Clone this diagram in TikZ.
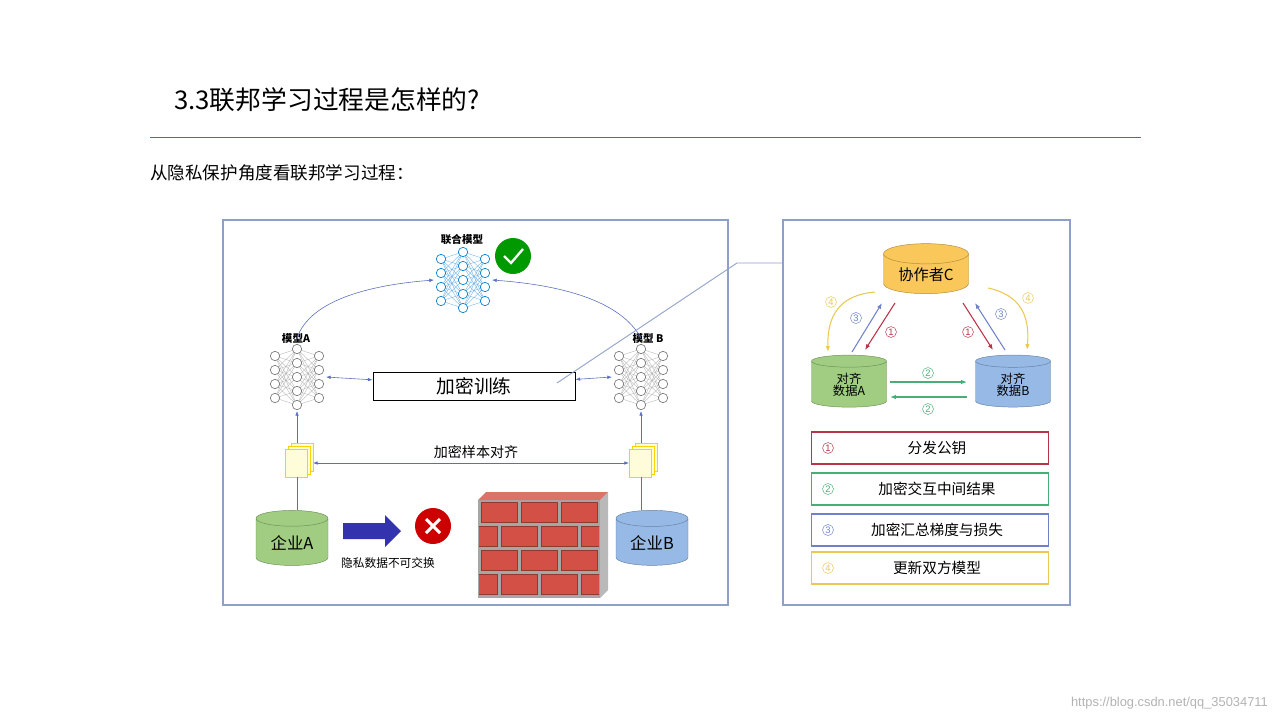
\documentclass[tikz,border=0pt]{standalone}
\usepackage{fontspec}
\setmainfont{Noto Sans CJK SC}
\newfontfamily\latinsans{Liberation Sans}
\usetikzlibrary{shapes.geometric, arrows.meta, calc}
\definecolor{frameblue}{RGB}{143,160,200}
\definecolor{linkblue}{RGB}{90,110,190}
\definecolor{cylgreen}{RGB}{160,205,130}
\definecolor{cylblue}{RGB}{150,185,230}
\definecolor{cylorange}{RGB}{250,200,90}
\definecolor{numred}{RGB}{185,50,70}
\definecolor{numgreen}{RGB}{70,175,120}
\definecolor{numblue}{RGB}{110,130,200}
\definecolor{numyellow}{RGB}{235,200,80}
\definecolor{brick}{RGB}{210,80,70}
\newcommand\fs[1]{\fontsize{#1}{#1}\selectfont}
\tikzset{
  cyl/.style={cylinder, shape border rotate=90, aspect=0.35, draw=#1!70!black, fill=#1,
    minimum width=72*0.03cm, minimum height=55*0.03cm, align=center, inner sep=1pt},
  link/.style={draw=linkblue, line width=0.5pt, {Latex[length=4pt]}-{Latex[length=4pt]}},
  up/.style={draw=linkblue, line width=0.5pt, -{Latex[length=4pt]}},
  num/.style={circle, draw=#1, text=#1, inner sep=0.8pt, font=\latinsans\fs{8}},
  step/.style={draw=#1, line width=0.9pt, -{Latex[length=5pt]}},
  legend/.style={draw=#1, line width=0.9pt, minimum width=237*0.03cm, minimum height=32*0.03cm}
}
% small neural network icon
\newcommand\nnet[3]{%
  \begin{scope}[shift={#1}]
    \foreach \i in {1,...,4}{
      \foreach \j in {1,...,5}{
        \draw[#2!60, line width=0.3pt] (-22,{-21+(\i-1)*14}) -- (0,{-28+(\j-1)*14});
        \draw[#2!60, line width=0.3pt] (22,{-21+(\i-1)*14}) -- (0,{-28+(\j-1)*14});
      }
    }
    \foreach \i in {1,...,4} {
      \draw[#2, fill=white, line width=0.6pt] (-22,{-21+(\i-1)*14}) circle [radius=4.7];
      \draw[#2, fill=white, line width=0.6pt] (22,{-21+(\i-1)*14}) circle [radius=4.7];
    }
    \foreach \j in {1,...,5}
      \draw[#2, fill=white, line width=0.6pt] (0,{-28+(\j-1)*14}) circle [radius=4.7];
    \coordinate (#3-n) at (0,-34);
    \coordinate (#3-s) at (0,34);
    \coordinate (#3-w) at (-29,0);
    \coordinate (#3-e) at (29,0);
  \end{scope}}
% stacked document icon
\newcommand\docs[2]{%
  \begin{scope}[shift={#1}]
    \foreach \k in {2,1,0}
      \draw[yellow!70!orange, fill=yellow!15, line width=0.5pt]
        ({-12+\k*3},{-14-\k*3}) rectangle ({10+\k*3},{14-\k*3});
    \coordinate (#2-n) at (0,-20);
    \coordinate (#2-s) at (0,14);
    \coordinate (#2-w) at (-12,0);
    \coordinate (#2-e) at (16,0);
  \end{scope}}
\begin{document}
\begin{tikzpicture}[x=0.03cm, y=-0.03cm]
  \useasboundingbox (0,0) rectangle (1280,720);
  % heading
  \node[anchor=west, font=\fs{22}] (title) at (170,100) {3.3联邦学习过程是怎样的?};
  \draw[draw=teal!60!gray, line width=0.8pt] (150,137) -- (1141,137);
  \node[anchor=west, font=\fs{15}] (sub) at (146,173) {从隐私保护角度看联邦学习过程：};
  % left panel
  \draw[frameblue, line width=1pt] (223,220) rectangle (728,605);
  \nnet{(463,280)}{cyan!70!blue}{fed}
  \nnet{(297,377)}{gray}{ma}
  \nnet{(641,377)}{gray}{mb}
  \node[font=\bfseries\fs{9}] (fedlbl) at (462,240) {联合模型};
  \node[circle, fill=green!60!black, inner sep=0, minimum size=36*0.03cm] (ok) at (513,256) {};
  \draw[white, line width=2pt] (504,256) -- (511,263) -- (523,249);
  \node[font=\bfseries\fs{9}] (lblA) at (296,338) {模型A};
  \node[font=\bfseries\fs{9}] (lblB) at (648,338) {模型 B};
  \draw[up] (ma-n) ++(0,-5) .. controls (310,300) and (370,285) .. (fed-w);
  \draw[up] (mb-n) ++(0,-5) .. controls (620,300) and (560,285) .. (fed-e);
  \node[draw, line width=0.8pt, minimum width=202*0.03cm, minimum height=28*0.03cm,
    font=\fs{16}] (train) at (474,386) {加密训练};
  \draw[link] (ma-e) -- (train);
  \draw[link] (train) -- (mb-w);
  \docs{(297,463)}{da}
  \docs{(641,463)}{db}
  \node[font=\fs{12}] (alignlbl) at (476,452) {加密样本对齐};
  \draw[link] (da-e) -- (db-w);
  \node[cyl=cylgreen, font=\fs{14}] (entA) at (292,543) {企业A};
  \node[cyl=cylblue, font=\fs{14}] (entB) at (652,543) {企业B};
  \draw[draw=linkblue] (da-s) -- (da-s |- entA.north);
  \draw[draw=linkblue] (db-s) -- (db-s |- entB.north);
  \draw[up] (da-n) -- (ma-s);
  \draw[up] (db-n) -- (mb-s);
  % private data cannot be exchanged
  \fill[blue!60!black!80] (343,523) -- (385,523) -- (385,515) -- (401,531) -- (385,547) -- (385,539) -- (343,539) -- cycle;
  \node[circle, fill=red!80!black, inner sep=0, minimum size=36*0.03cm] (no) at (433,526) {};
  \draw[white, line width=2.5pt] (426,519) -- (440,533) (440,519) -- (426,533);
  \node[font=\fs{10}] (nolbl) at (388,563) {隐私数据不可交换};
  % brick wall
  \fill[gray!70] (478,500) rectangle (600,598);
  \begin{scope}
    \clip (479,500) rectangle (599,598);
    \foreach \r in {0,...,3}{
      \pgfmathsetmacro\off{mod(\r,2)*20}
      \foreach \c in {-1,...,3}
        \draw[brick!70!black, fill=brick] ({481+\off+\c*40},{502+\r*24}) rectangle ({517+\off+\c*40},{522+\r*24});
    }
  \end{scope}
  \fill[gray!55] (600,500) -- (608,492) -- (608,590) -- (600,598) -- cycle;
  \fill[brick!80!white] (478,500) -- (486,492) -- (608,492) -- (600,500) -- cycle;
  % callout line
  \draw[frameblue, line width=0.8pt] (557,383) -- (737,263) -- (783,263);
  % right panel
  \draw[frameblue, line width=1pt] (783,220) rectangle (1070,605);
  \node[cyl=cylorange, minimum width=85*0.03cm, minimum height=50*0.03cm, font=\fs{13}] (coord) at (926,275) {协作者C};
  \node[cyl=cylgreen, minimum width=75*0.03cm, minimum height=52*0.03cm, font=\fs{10.5}] (alA) at (849,385) {对齐\\数据A};
  \node[cyl=cylblue, minimum width=75*0.03cm, minimum height=52*0.03cm, font=\fs{10.5}] (alB) at (1013,385) {对齐\\数据B};
  \draw[step=numred] (895,303) -- (865,350);
  \draw[step=numblue] (852,352) -- (882,303);
  \draw[step=numred] (963,303) -- (993,350);
  \draw[step=numblue] (1005,350) -- (975,303);
  \draw[step=numyellow] (875,292) .. controls (840,295) and (827,315) .. (828,352);
  \draw[step=numyellow] (988,288) .. controls (1020,295) and (1030,315) .. (1027,350);
  \draw[step=numgreen] (890,382) -- (967,382);
  \draw[step=numgreen] (967,397) -- (890,397);
  \node[num=numyellow] (n4a) at (831,302) {4};
  \node[num=numblue] (n3a) at (856,318) {3};
  \node[num=numred] (n1a) at (891,332) {1};
  \node[num=numred] (n1b) at (968,332) {1};
  \node[num=numblue] (n3b) at (1001,314) {3};
  \node[num=numyellow] (n4b) at (1028,298) {4};
  \node[num=numgreen] (n2a) at (928,373) {2};
  \node[num=numgreen] (n2b) at (928,409) {2};
  % legend
  \foreach \y/\c/\k/\t in {448/numred/1/分发公钥, 489/numgreen/2/加密交互中间结果,
      530/numblue/3/加密汇总梯度与损失, 568/numyellow/4/更新双方模型}{
    \node[legend=\c] (leg\k) at (930,\y) {};
    \node[num=\c] (legn\k) at (828,\y) {\k};
    \node[font=\fs{12.5}] (legt\k) at (937,\y) {\t};
  }
  \node[anchor=east, text=gray!60, font=\latinsans\fs{11}] (wm) at (1272,703) {https://blog.csdn.net/qq\_35034711};
\end{tikzpicture}
\end{document}
